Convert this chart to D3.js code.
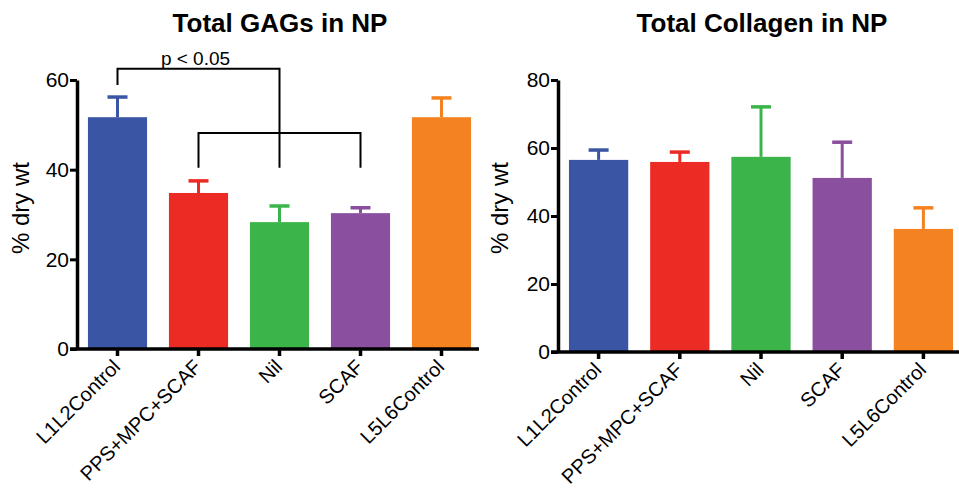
<!DOCTYPE html>
<html lang="en">
<head>
    <meta charset="UTF-8">
    <title>Total GAGs and Collagen in NP</title>
    <script src="https://d3js.org/d3.v7.min.js"></script>
    <style>
        body { margin: 0; background: #fff; }
        svg { font-family: "Liberation Sans", Arial, Helvetica, sans-serif; }
        .title { font-size: 26px; font-weight: bold; }
        .ylabel { font-size: 24px; }
        .tick text { font-size: 21px; fill: #000; }
        .xlab { font-size: 20px; }
    </style>
</head>
<body>
<svg id="chart" width="959" height="489"></svg>
<script>
    const categories = ["L1L2Control", "PPS+MPC+SCAF", "Nil", "SCAF", "L5L6Control"];
    const colors = ["#3a55a4", "#ec2b24", "#3bb54a", "#8a4f9f", "#f48220"];

    const gagMeans = [51.7, 34.8, 28.3, 30.3, 51.7];
    const gagErrors = [4.5, 2.7, 3.6, 1.2, 4.3];
    const gagTicks = [0, 20, 40, 60];

    const collagenMeans = [56.5, 55.9, 57.4, 51.2, 36.2];
    const collagenErrors = [2.9, 2.9, 14.7, 10.5, 6.2];
    const collagenTicks = [0, 20, 40, 60, 80];

    // significance bracket levels (in % dry wt) for the GAG panel
    const bracketTop = 62.5, bracketTopLeftEnd = 58.9;
    const bracketLow = 48.2, bracketEnd = 40.4;

    const svg = d3.select("#chart");

    function panel(p) {
        const g = svg.append("g");
        const x = d3.scaleBand().domain(categories)
            .range([p.left, p.right]).paddingInner(0.27).paddingOuter(0.135);
        const y = d3.scaleLinear().domain([0, p.max]).range([p.bottom, p.top]);

        // bars
        g.selectAll("rect.bar").data(p.means).enter().append("rect")
            .attr("class", "bar")
            .attr("x", (d, i) => x(categories[i]))
            .attr("y", d => y(d))
            .attr("width", x.bandwidth())
            .attr("height", d => y(0) - y(d))
            .attr("fill", (d, i) => colors[i]);

        // error bars (upper only)
        const cx = i => x(categories[i]) + x.bandwidth() / 2;
        g.selectAll("line.err").data(p.means).enter().append("line")
            .attr("x1", (d, i) => cx(i)).attr("x2", (d, i) => cx(i))
            .attr("y1", d => y(d)).attr("y2", (d, i) => y(d + p.errors[i]))
            .attr("stroke", (d, i) => colors[i]).attr("stroke-width", 3);
        g.selectAll("line.cap").data(p.means).enter().append("line")
            .attr("x1", (d, i) => cx(i) - 10).attr("x2", (d, i) => cx(i) + 10)
            .attr("y1", (d, i) => y(d + p.errors[i])).attr("y2", (d, i) => y(d + p.errors[i]))
            .attr("stroke", (d, i) => colors[i]).attr("stroke-width", 3.5);

        // y axis
        const ya = g.append("g").attr("transform", "translate(" + p.left + ",0)")
            .call(d3.axisLeft(y).tickValues(p.ticks).tickSize(7).tickPadding(1).tickSizeOuter(0));
        ya.select(".domain").attr("stroke", "#000").attr("stroke-width", 3.5);
        ya.selectAll(".tick line").attr("stroke", "#000").attr("stroke-width", 3);

        // x axis
        const xa = g.append("g").attr("transform", "translate(0," + p.bottom + ")")
            .call(d3.axisBottom(x).tickSize(7).tickSizeOuter(0).tickFormat(""));
        xa.select(".domain").remove();
        xa.selectAll(".tick line").attr("stroke", "#000").attr("stroke-width", 3.5);
        g.append("line")
            .attr("x1", p.left - 7).attr("x2", p.axisEnd)
            .attr("y1", p.bottom).attr("y2", p.bottom)
            .attr("stroke", "#000").attr("stroke-width", 3.5);

        g.selectAll("text.xlab").data(categories).enter().append("text")
            .attr("class", "xlab")
            .attr("text-anchor", "end")
            .attr("transform", d => "translate(" + (x(d) + x.bandwidth() / 2 + 4) + "," + (p.bottom + 19) + ") rotate(-45)")
            .text(d => d);

        g.append("text").attr("class", "title")
            .attr("x", p.titleX).attr("y", 32)
            .attr("text-anchor", "middle").text(p.title);

        g.append("text").attr("class", "ylabel")
            .attr("text-anchor", "middle")
            .attr("transform", "translate(" + p.labelX + ",208) rotate(-90)")
            .text("% dry wt");

        return {g, x, y, cx};
    }

    const left = panel({
        left: 77, right: 482, top: 80, bottom: 349, axisEnd: 479, max: 60,
        means: gagMeans, errors: gagErrors, ticks: gagTicks,
        title: "Total GAGs in NP", titleX: 280, labelX: 29
    });

    panel({
        left: 558, right: 964, top: 80, bottom: 352, axisEnd: 959, max: 80,
        means: collagenMeans, errors: collagenErrors, ticks: collagenTicks,
        title: "Total Collagen in NP", titleX: 762, labelX: 508
    });

    // significance bracket
    const b = left.g.append("g").attr("fill", "none").attr("stroke", "#000").attr("stroke-width", 2);
    const X = left.cx, Y = left.y;
    b.append("path").attr("d",
        "M" + X(0) + "," + Y(bracketTopLeftEnd) + "V" + Y(bracketTop) + "H" + X(2) + "V" + Y(bracketEnd));
    b.append("path").attr("d",
        "M" + X(1) + "," + Y(bracketEnd) + "V" + Y(bracketLow) + "H" + X(3) + "V" + Y(bracketEnd));
    left.g.append("text")
        .attr("x", (X(0) + X(2)) / 2 - 3).attr("y", Y(bracketTop) - 4)
        .attr("text-anchor", "middle").style("font-size", "19px")
        .text("p < 0.05");
</script>
</body>
</html>
